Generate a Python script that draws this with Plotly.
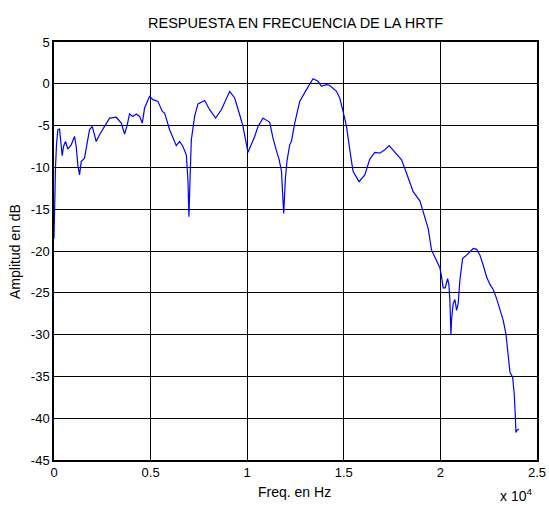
import plotly.graph_objects as go

freq_hz = [0, 36, 78, 130, 197, 285, 337, 425, 492, 596, 715, 891, 1062, 1150, 1233, 1321, 1409, 1580,
           1699, 1839, 1979, 2098, 2186, 2357, 2616, 2875, 3222, 3482, 3653, 3772, 3912, 4067, 4259, 4430,
           4570, 4689, 4948, 5119, 5378, 5606, 5725, 5984, 6331, 6502, 6673, 6849, 6932, 6984, 7046, 7108,
           7279, 7450, 7797, 8056, 8367, 8663, 9093, 9352, 9611, 9782, 10041, 10217, 10388, 10559, 10818,
           11165, 11336, 11512, 11647, 11771, 11854, 11890, 11978, 12061, 12201, 12289, 12460, 12719, 13066,
           13408, 13667, 13843, 14102, 14273, 14621, 14791, 14962, 15139, 15310, 15481, 15792, 16087, 16346,
           16605, 16864, 17123, 17346, 17641, 17989, 18248, 18590, 18938, 19109, 19366, 19543, 19802, 19973,
           20061, 20144, 20248, 20372, 20439, 20491, 20543, 20579, 20662, 20750, 20838, 20921, 21009, 21149,
           21356, 21527, 21698, 21874, 22045, 22216, 22392, 22563, 22734, 22910, 23081, 23252, 23392, 23511,
           23600, 23739, 23822, 23874, 23910, 23978, 24066]

amp_db = [-18.5, -13, -9.9, -7.3, -5.5, -5.4, -6.7, -8.6, -7.5, -6.9, -7.8, -7.3, -6.3, -7.5, -9.7, -10.9, -9.3, -8.9,
          -7.3, -5.5, -5.1, -6.3, -6.9, -6.1, -5.1, -4.1, -4.0, -4.7, -6.0, -5.1, -3.6, -3.9, -3.6, -3.9,
          -4.7, -2.9, -1.5, -1.9, -2.1, -3.3, -3.5, -5.5, -7.4, -6.9, -7.5, -8.5, -11.5, -15.9, -11, -6.7,
          -3.9, -2.4, -2.0, -3.1, -4.1, -3.1, -0.9, -1.7, -3.7, -5.1, -8.2, -7.3, -6.3, -5.1, -4.1,
          -4.6, -6.5, -8, -9, -10.4, -13.2, -15.5, -11.3, -9.2, -7.3, -6.9, -4.7, -2.1, -0.7,
          0.6, 0.3, -0.3, -0.1, -0.2, -0.9, -1.7, -3.3, -5.1, -7.9, -10.5, -11.7, -10.9, -9,
          -8.2, -8.3, -7.9, -7.4, -8.2, -9.1, -10.7, -12.9, -14, -15.4, -17.3, -19.9, -21.3, -22,
          -23.1, -24.4, -24.4, -23.3, -24, -25.9, -30, -28.2, -26.3, -25.8, -27.1, -26.3, -23.5, -20.9,
          -20.5, -20.1, -19.7, -19.8, -20.5, -21.7, -23.1, -24, -24.6, -25.7, -27.1, -28.3, -29.9, -32.3,
          -34.5, -35.1, -37.1, -39.5, -41.7, -41.4, -41.3]

x_tickvals = [0, 5000, 10000, 15000, 20000, 25000]
x_ticktext = ["0", "0.5", "1", "1.5", "2", "2.5"]
y_tickvals = [5, 0, -5, -10, -15, -20, -25, -30, -35, -40, -45]
y_ticktext = ["5", "0", "-5", "-10", "-15", "-20", "-25", "-30", "-35", "-40", "-45"]

FONT = "Liberation Sans, Arial, sans-serif"
W, H = 549, 506
ML, MR, MT, MB = 54, 12, 42, 46
PW, PH = W - ML - MR, H - MT - MB


def px(xp):
    return (xp - ML) / PW


def py(yp):
    return (H - MB - yp) / PH


fig = go.Figure()
fig.add_trace(go.Scatter(x=freq_hz, y=amp_db, mode="lines",
                         line=dict(color="#0000FF", width=1.2), showlegend=False))

fig.update_layout(
    width=W, height=H,
    paper_bgcolor="white", plot_bgcolor="white",
    margin=dict(l=ML, r=MR, t=MT, b=MB, autoexpand=False),
    font=dict(family=FONT, size=13, color="black"),
)
fig.update_xaxes(range=[0, 25000], tickvals=x_tickvals, ticktext=x_ticktext,
                 showgrid=True, gridcolor="black", gridwidth=1,
                 showline=True, linecolor="black", linewidth=1.5, mirror=True,
                 ticks="inside", ticklen=5, tickcolor="black", zeroline=False,
                 automargin=False, tickfont=dict(size=13))
fig.update_yaxes(range=[-45, 5], tickvals=y_tickvals, ticktext=y_ticktext,
                 showgrid=True, gridcolor="black", gridwidth=1,
                 showline=True, linecolor="black", linewidth=1.5, mirror=True,
                 ticks="inside", ticklen=5, tickcolor="black", zeroline=False,
                 automargin=False, tickfont=dict(size=13))

# title
fig.add_annotation(text="RESPUESTA EN FRECUENCIA DE LA HRTF", xref="paper", yref="paper",
                   x=px(295), y=py(23), xanchor="center", yanchor="middle", showarrow=False,
                   font=dict(family=FONT, size=14.5, color="black"))
# x axis label
fig.add_annotation(text="Freq. en Hz", xref="paper", yref="paper",
                   x=px(294.5), y=py(492), xanchor="center", yanchor="middle", showarrow=False,
                   font=dict(family=FONT, size=14, color="black"))
# y axis label
fig.add_annotation(text="Amplitud en dB", xref="paper", yref="paper", textangle=-90,
                   x=px(15), y=py(252), xanchor="center", yanchor="middle", showarrow=False,
                   font=dict(family=FONT, size=14, color="black"))
# exponent
fig.add_annotation(text="x 10<sup>4</sup>", xref="paper", yref="paper",
                   x=px(534), y=py(495), xanchor="right", yanchor="middle", showarrow=False,
                   font=dict(family=FONT, size=14, color="black"))

fig.write_html("out.html", config={"displayModeBar": False},
               post_script="document.body.style.margin='0';document.body.style.overflow='hidden';")
